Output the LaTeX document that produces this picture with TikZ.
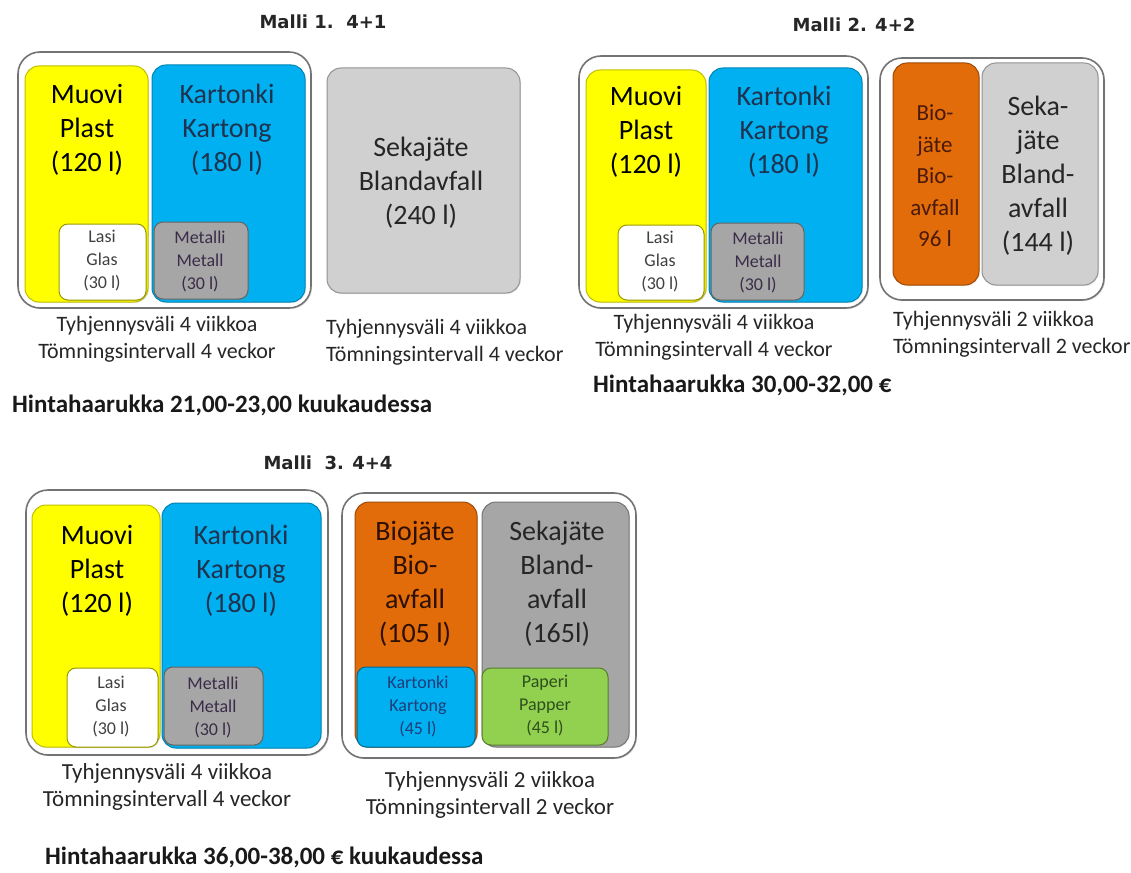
\documentclass[tikz,border=0pt]{standalone}
\usepackage{fontspec}
\usetikzlibrary{shadows}
\setmainfont{Carlito}
\newfontfamily\titlefont{DejaVu Sans}
\definecolor{cyel}{HTML}{FFFF00}
\definecolor{cblue}{HTML}{00B0F0}
\definecolor{clgray}{HTML}{D0D0D0}
\definecolor{cmgray}{HTML}{A6A6A6}
\definecolor{corange}{HTML}{E26B0A}
\definecolor{cgreen}{HTML}{92D050}
\definecolor{tnavy}{HTML}{1F3350}
\definecolor{tdark}{HTML}{262626}
\definecolor{tbio}{HTML}{4A1A08}
\definecolor{tmetal}{HTML}{3A2C48}
\definecolor{tsblue}{HTML}{1F3D7A}
\definecolor{tgreen}{HTML}{2E4F1E}
\newcommand\boxat[6]{\node[#1, minimum width={#5-#3}, minimum height={#6-#4}] (#2) at (#3,#4) {};}
\tikzset{
  outerbox/.style={draw=black!55, line width=1.6pt, fill=white, rounded corners=22pt, inner sep=0pt, outer sep=0pt, anchor=north west,
    drop shadow={opacity=0.2, shadow xshift=1.2pt, shadow yshift=-1.2pt}},
  binbox/.style={line width=1pt, rounded corners=14pt, inner sep=0pt, outer sep=0pt, anchor=north west,
    drop shadow={opacity=0.18, shadow xshift=1pt, shadow yshift=-1pt}},
  smallbox/.style={line width=1pt, rounded corners=9pt, inner sep=0pt, outer sep=0pt, anchor=north west,
    drop shadow={opacity=0.18, shadow xshift=1pt, shadow yshift=-1pt}},
  yel/.style={binbox, fill=cyel, draw=cyel!75!black},
  blu/.style={binbox, fill=cblue, draw=cblue!75!black},
  lgr/.style={binbox, fill=clgray, draw=clgray!70!black},
  mgr/.style={binbox, fill=cmgray, draw=cmgray!70!black},
  ora/.style={binbox, fill=corange, draw=corange!70!black},
  glass/.style={smallbox, fill=white, draw=cyel!60!black},
  metalbox/.style={smallbox, fill=cmgray, draw=cmgray!60!black},
  bigtxt/.style={font=\fontsize{28}{34}\selectfont, align=center, inner sep=0pt},
  biotxt/.style={font=\fontsize{23}{31.5}\selectfont, align=center, inner sep=0pt},
  smalltxt/.style={font=\fontsize{18}{23}\selectfont, align=center, inner sep=0pt},
  captxt/.style={font=\fontsize{22}{27.5}\selectfont, inner sep=0pt, text=black!85},
  captxtb/.style={font=\fontsize{23}{27.5}\selectfont, inner sep=0pt, text=black!85},
  titletxt/.style={font=\titlefont\bfseries\fontsize{18}{22}\selectfont, inner sep=0pt, text=black!85},
  pricetxt/.style={font=\bfseries\fontsize{25}{30}\selectfont, inner sep=0pt, anchor=west, text=black!90}
}
\begin{document}
\begin{tikzpicture}[x=1pt,y=-1pt]
\useasboundingbox[fill=white] (0,0) rectangle (1131,872);

% ---------------- Malli 1 ----------------
\node[titletxt] (t1) at (323,22) {Malli 1.\ \ 4+1};
\boxat{outerbox}{o11}{18}{52}{311}{308}
\boxat{yel}{y1}{25}{66}{148}{302}
\boxat{blu}{b1}{152}{65}{305}{302}
\boxat{glass}{g1}{59}{224}{146}{300}
\boxat{metalbox}{m1}{154}{222}{248}{299}
\boxat{lgr}{s1}{327}{68}{520}{293}
\node[bigtxt, text=black] (ty1) at (87,130) {Muovi\\Plast\\(120 l)};
\node[bigtxt, text=tnavy] (tb1) at (227,130) {Kartonki\\Kartong\\(180 l)};
\node[bigtxt, text=tdark] (ts1) at (421,183) {Sekajäte\\Blandavfall\\(240 l)};
\node[smalltxt, text=black!75] (tg1) at (102,261) {Lasi\\Glas\\(30 l)};
\node[smalltxt, text=tmetal] (tm1) at (200,261) {Metalli\\Metall\\(30 l)};
\node[captxt, align=center] (c1a) at (157,339) {Tyhjennysväli 4 viikkoa\\Tömningsintervall 4 veckor};
\node[captxt, align=left, anchor=west] (c1b) at (326,342) {Tyhjennysväli 4 viikkoa\\Tömningsintervall 4 veckor};
\node[pricetxt] (p1) at (12,405) {Hintahaarukka 21,00-23,00 kuukaudessa};

% ---------------- Malli 2 ----------------
\node[titletxt] (t2) at (854,25) {Malli 2. 4+2};
\boxat{outerbox}{o21}{579}{56}{868}{308}
\boxat{yel}{y2}{586}{70}{706}{302}
\boxat{blu}{b2}{709}{68}{862}{302}
\boxat{glass}{g2}{618}{225}{704}{300}
\boxat{metalbox}{m2}{711}{223}{804}{300}
\boxat{outerbox}{o22}{880}{58}{1104}{300}
\boxat{ora}{r2}{893}{63}{979}{285}
\boxat{lgr}{s2}{982}{63}{1098}{285}
\node[bigtxt, text=black] (ty2) at (646,132) {Muovi\\Plast\\(120 l)};
\node[bigtxt, text=tnavy] (tb2) at (784,132) {Kartonki\\Kartong\\(180 l)};
\node[smalltxt, text=black!75] (tg2) at (660,262) {Lasi\\Glas\\(30 l)};
\node[smalltxt, text=tmetal] (tm2) at (758,262) {Metalli\\Metall\\(30 l)};
\node[biotxt, text=tbio] (tr2) at (935,176) {Bio-\\jäte\\Bio-\\avfall\\96 l};
\node[bigtxt, text=tdark] (ts2) at (1038,176) {Seka-\\jäte\\Bland-\\avfall\\(144 l)};
\node[captxt, align=center] (c2a) at (714,337) {Tyhjennysväli 4 viikkoa\\Tömningsintervall 4 veckor};
\node[captxt, align=left, anchor=west] (c2b) at (893,334) {Tyhjennysväli 2 viikkoa\\Tömningsintervall 2 veckor};
\node[pricetxt] (p2) at (593,385) {Hintahaarukka 30,00-32,00 €};

% ---------------- Malli 3 ----------------
\node[titletxt] (t3) at (328,463) {Malli\ \ 3. 4+4};
\boxat{outerbox}{o31}{26}{490}{328}{755}
\boxat{yel}{y3}{32}{505}{160}{747}
\boxat{blu}{b3}{162}{503}{321}{748}
\boxat{glass}{g3}{67}{668}{158}{747}
\boxat{metalbox}{m3}{164}{667}{263}{745}
\boxat{outerbox}{o32}{342}{493}{636}{758}
\boxat{ora}{r3}{355}{502}{477}{747}
\boxat{mgr}{s3}{482}{502}{629}{747}
\boxat{smallbox, fill=cblue, draw=cblue!60!black}{k3}{357}{667}{475}{747}
\boxat{smallbox, fill=cgreen, draw=cgreen!60!black}{pp3}{482}{668}{608}{745}
\node[bigtxt, text=black] (ty3) at (97,571) {Muovi\\Plast\\(120 l)};
\node[bigtxt, text=tnavy] (tb3) at (241,571) {Kartonki\\Kartong\\(180 l)};
\node[smalltxt, text=black!75] (tg3) at (111,707) {Lasi\\Glas\\(30 l)};
\node[smalltxt, text=tmetal] (tm3) at (213,707) {Metalli\\Metall\\(30 l)};
\node[bigtxt, text=tbio!60!black] (tr3) at (415,584) {Biojäte\\Bio-\\avfall\\(105 l)};
\node[bigtxt, text=tdark] (ts3) at (557,584) {Sekajäte\\Bland-\\avfall\\(165l)};
\node[smalltxt, text=tsblue] (tk3) at (418,706) {Kartonki\\Kartong\\(45 l)};
\node[smalltxt, text=tgreen] (tp3) at (545,706) {Paperi\\Papper\\(45 l)};
\node[captxtb, align=center] (c3a) at (167,787) {Tyhjennysväli 4 viikkoa\\Tömningsintervall 4 veckor};
\node[captxtb, align=center] (c3b) at (490,795) {Tyhjennysväli 2 viikkoa\\Tömningsintervall 2 veckor};
\node[pricetxt] (p3) at (45,857) {Hintahaarukka 36,00-38,00 € kuukaudessa};
\end{tikzpicture}
\end{document}
